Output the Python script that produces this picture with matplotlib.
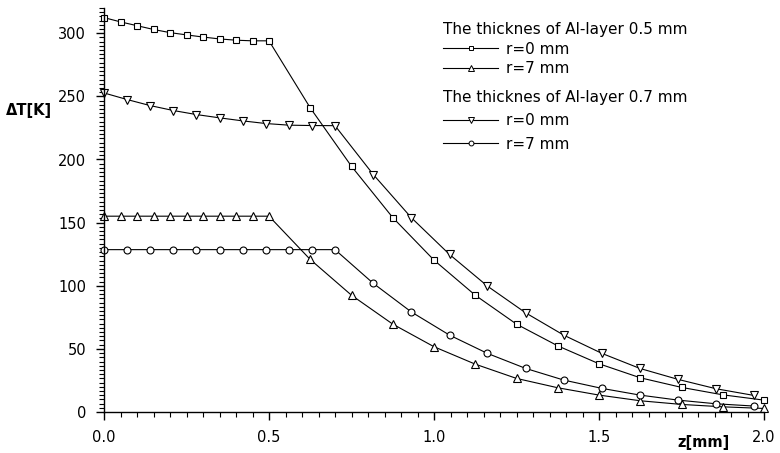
import matplotlib
matplotlib.use("Agg")
import matplotlib.pyplot as plt
from matplotlib.lines import Line2D
from matplotlib.ticker import MultipleLocator, AutoMinorLocator

plt.rcParams['font.family'] = ['DejaVu Sans']

# Al-layer 0.5 mm
z_05 = [0.0, 0.05, 0.10, 0.15, 0.20, 0.25, 0.30, 0.35, 0.40, 0.45, 0.50,
        0.625, 0.75, 0.875, 1.0, 1.125, 1.25, 1.375, 1.5, 1.625, 1.75, 1.875, 2.0]
dT_05_r0 = [312.4, 309.0, 306.0, 303.0, 300.5, 298.7, 297.0, 295.5, 294.5, 294.0, 294.0,
            240.9, 194.6, 154.0, 120.3, 92.5, 69.6, 52.4, 38.2, 27.1, 19.5, 13.6, 9.4]
dT_05_r7 = [155.1, 155.1, 155.1, 155.1, 155.1, 155.1, 155.1, 155.1, 155.1, 155.1, 155.1,
            120.8, 92.5, 69.6, 51.7, 37.9, 26.6, 19.2, 13.4, 8.9, 6.0, 4.1, 2.8]

# Al-layer 0.7 mm
z_07 = [0.0, 0.07, 0.14, 0.21, 0.28, 0.35, 0.42, 0.49, 0.56, 0.63, 0.70,
        0.816, 0.931, 1.047, 1.162, 1.278, 1.393, 1.509, 1.624, 1.740, 1.855, 1.970]
dT_07_r0 = [252.7, 247.5, 242.7, 238.8, 235.6, 233.0, 230.6, 228.5, 227.2, 226.9, 226.8,
            188.1, 154.0, 124.8, 99.7, 78.5, 60.9, 46.4, 34.5, 25.8, 18.4, 13.1]
dT_07_r7 = [128.6, 128.6, 128.6, 128.6, 128.6, 128.6, 128.6, 128.6, 128.6, 128.6, 128.6,
            101.9, 79.3, 60.9, 46.4, 34.5, 25.3, 18.7, 13.4, 9.4, 6.5, 4.7]

fig = plt.figure(figsize=(7.8, 4.53), dpi=100)
ax = fig.add_axes([104/780, 41/453, 660/780, 404/453])

mk = dict(color='black', lw=0.8, markerfacecolor='white', markeredgecolor='black',
          markeredgewidth=0.8, clip_on=False)
ax.plot(z_05, dT_05_r0, marker='s', ms=4.5, **mk)
ax.plot(z_05, dT_05_r7, marker='^', ms=5.5, **mk)
ax.plot(z_07, dT_07_r0, marker='v', ms=5.5, **mk)
ax.plot(z_07, dT_07_r7, marker='o', ms=5, **mk)

ax.set_xlim(0, 2.0)
ax.set_ylim(0, 320)
ax.xaxis.set_major_locator(MultipleLocator(0.5))
ax.xaxis.set_minor_locator(MultipleLocator(0.05))
ax.yaxis.set_major_locator(MultipleLocator(50))
ax.yaxis.set_minor_locator(AutoMinorLocator(15))
ax.xaxis.set_major_formatter(plt.FormatStrFormatter('%.1f'))
ax.spines['top'].set_visible(False)
ax.spines['right'].set_visible(False)
for s in ('left', 'bottom'):
    ax.spines[s].set_linewidth(1.0)
ax.tick_params(which='major', direction='out', length=6, width=1.0, labelsize=10.5, pad=7)
ax.tick_params(which='minor', direction='out', length=3.5, width=0.8)

fig.text(6/780, 1 - 110/453, 'ΔT[K]', fontsize=10.5, fontweight='bold', va='center', ha='left')
fig.text(703/780, 1 - 443/453, 'z[mm]', fontsize=10.5, fontweight='bold', va='center', ha='center')

lk = dict(color='black', lw=0.8, markerfacecolor='white', markeredgecolor='black', markeredgewidth=0.7)
h1 = [Line2D([], [], marker='s', ms=3.5, **lk), Line2D([], [], marker='^', ms=4, **lk)]
h2 = [Line2D([], [], marker='v', ms=4, **lk), Line2D([], [], marker='o', ms=3.5, **lk)]
leg1 = ax.legend(h1, ['r=0 mm', 'r=7 mm'], title='The thicknes of Al-layer 0.5 mm',
                 loc='upper left', bbox_to_anchor=(443/780, 1 - 22/453), bbox_transform=fig.transFigure,
                 frameon=False, fontsize=11, title_fontsize=11, alignment='left',
                 handlelength=3.6, handletextpad=0.5, labelspacing=0.3,
                 borderpad=0, borderaxespad=0)
ax.add_artist(leg1)
ax.legend(h2, ['r=0 mm', 'r=7 mm'], title='The thicknes of Al-layer 0.7 mm',
          loc='upper left', bbox_to_anchor=(443/780, 1 - 90/453), bbox_transform=fig.transFigure,
          frameon=False, fontsize=11, title_fontsize=11, alignment='left',
          handlelength=3.6, handletextpad=0.5, labelspacing=0.55,
          borderpad=0, borderaxespad=0)

fig.savefig('out.png', dpi=100)
